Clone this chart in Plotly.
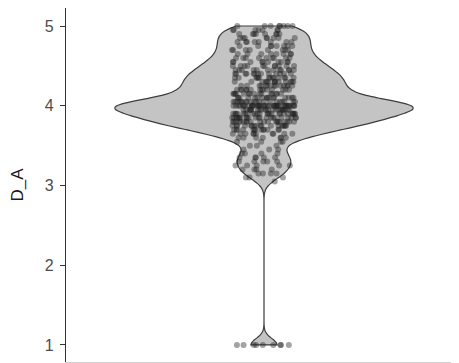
import numpy as np
import plotly.graph_objects as go

# D_A score levels and number of respondents at each level
levels = [1.00, 3.05, 3.10, 3.15, 3.20, 3.25, 3.30, 3.35, 3.40, 3.45, 3.50,
          3.55, 3.60, 3.65, 3.70, 3.75, 3.80, 3.85, 3.90, 3.95, 4.00,
          4.05, 4.10, 4.15, 4.20, 4.25, 4.30, 4.35, 4.40, 4.45, 4.50,
          4.55, 4.60, 4.65, 4.70, 4.75, 4.80, 4.85, 4.90, 4.95, 5.00]
counts = [9, 1, 3, 4, 4, 5, 5, 5, 4, 3, 3,
          4, 7, 10, 13, 17, 20, 22, 24, 22, 40,
          20, 16, 15, 14, 14, 14, 14, 13, 12, 11,
          10, 9, 8, 8, 8, 8, 8, 8, 7, 8]
y_label = "D_A"
y_ticks = [1, 2, 3, 4, 5]

values = np.repeat(np.array(levels), np.array(counts))

FONT = "Liberation Sans, Arial, sans-serif"
VW = 0.903

fig = go.Figure()
fig.add_trace(go.Violin(
    y=values, x0=0, width=VW, spanmode="hard", bandwidth=0.08,
    scalemode="width", points=False, fillcolor="#c4c4c4",
    line=dict(color="#3d3d3d", width=1.2), opacity=1,
    box_visible=False, meanline_visible=False, hoverinfo="skip",
    showlegend=False))

# jittered points (split into groups so plotly's jitter is uniform in each)
groups = [values[values < 2], values[(values >= 2) & (values < 3.58)], values[values >= 3.58]]
for g in groups:
    fig.add_trace(go.Box(
        y=g, x0=0, width=VW, boxpoints="all", jitter=0.215, pointpos=0,
        fillcolor="rgba(0,0,0,0)", line=dict(width=0, color="rgba(0,0,0,0)"),
        marker=dict(size=6, color="rgba(35,35,35,0.42)", line=dict(width=0)),
        hoverinfo="skip", showlegend=False))

fig.update_layout(
    width=451, height=355,
    margin=dict(l=58, r=0, t=0, b=1),
    paper_bgcolor="white", plot_bgcolor="white",
    boxmode="overlay", violinmode="overlay",
    showlegend=False,
    font=dict(family=FONT),
    xaxis=dict(range=[-0.600, 0.5909], showticklabels=False, ticks="",
               showgrid=False, zeroline=False, showline=True,
               linecolor="#d0d0d0", linewidth=1, fixedrange=True),
    yaxis=dict(range=[0.7864, 5.226], tickvals=y_ticks, ticks="outside",
               ticklen=5, tickwidth=1, tickcolor="#333333",
               ticklabelstandoff=3,
               tickfont=dict(size=16, color="#4d4d4d", family=FONT),
               showgrid=False, zeroline=False, showline=True,
               linecolor="#333333", linewidth=1.3,
               title=dict(text=y_label, font=dict(size=17, color="#1a1a1a", family=FONT),
                          standoff=17)),
)

fig.write_html("out.html")
